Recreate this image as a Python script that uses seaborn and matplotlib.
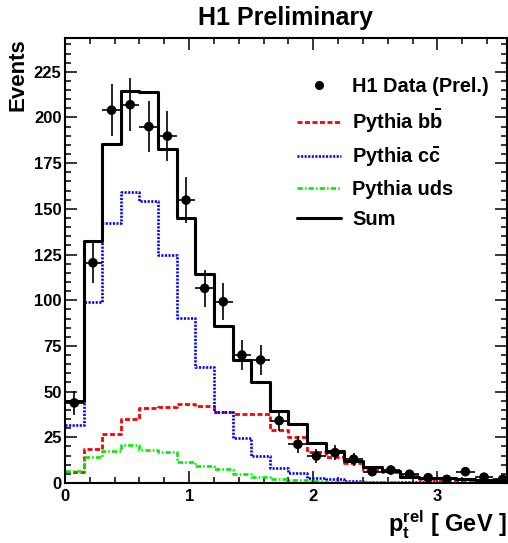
import numpy as np
import pandas as pd
import matplotlib
matplotlib.use("Agg")
import matplotlib.pyplot as plt
import seaborn as sns
from matplotlib.lines import Line2D

# ---------------- data ----------------
bin_edges = [0.0, 0.15, 0.30, 0.45, 0.60, 0.75, 0.90, 1.05, 1.20, 1.35, 1.50, 1.65,
             1.80, 1.95, 2.10, 2.25, 2.40, 2.55, 2.70, 2.85, 3.00, 3.15, 3.30, 3.45, 3.60]
bin_centers = [0.075, 0.225, 0.375, 0.525, 0.675, 0.825, 0.975, 1.125, 1.275, 1.425,
               1.575, 1.725, 1.875, 2.025, 2.175, 2.325, 2.475, 2.625, 2.775, 2.925,
               3.075, 3.225, 3.375, 3.525]
data_events = [43.8, 120.5, 204.0, 207.0, 195.0, 189.8, 154.8, 106.5, 99.2, 70.0,
               67.3, 34.1, 21.2, 14.8, 16.6, 13.0, 6.2, 7.1, 4.8, 2.9,
               2.0, 6.2, 3.2, 2.0]
data_errors = [6.6, 11.0, 14.3, 14.4, 14.0, 13.8, 12.4, 10.3, 10.0, 8.4,
               8.2, 5.8, 4.6, 3.8, 4.1, 3.6, 2.5, 2.7, 2.2, 1.7,
               1.4, 2.5, 1.8, 1.4]
bin_half_width = 0.075
pythia_bb = [6.2, 18.4, 26.6, 34.8, 40.9, 41.5, 43.0, 42.1, 39.0, 37.6,
             37.6, 29.0, 25.0, 17.1, 14.4, 10.8, 7.1, 6.2, 4.4, 2.2,
             1.8, 1.5, 1.2, 1.0]
pythia_cc = [31.7, 99.2, 142.0, 159.0, 154.4, 124.7, 90.1, 63.6, 39.0, 24.5,
             14.8, 8.0, 5.6, 3.0, 2.0, 1.2, 0.8, 0.5, 0.4, 0.3,
             0.2, 0.2, 0.1, 0.1]
pythia_uds = [6.5, 14.4, 17.5, 20.8, 18.0, 16.8, 11.7, 9.3, 7.5, 4.9,
              3.5, 2.4, 1.7, 1.0, 0.8, 0.5, 0.4, 0.3, 0.2, 0.2,
              0.1, 0.1, 0.1, 0.1]
pythia_sum = [45.0, 132.5, 185.4, 214.6, 213.9, 182.7, 145.1, 114.6, 85.9, 67.3,
              55.1, 39.4, 32.1, 21.7, 17.5, 12.2, 8.9, 6.6, 3.5, 3.0,
              2.5, 2.0, 1.6, 1.5]
legend_labels = ["H1 Data (Prel.)", r"Pythia $\mathbf{b\bar{b}}$",
                 r"Pythia $\mathbf{c\bar{c}}$", "Pythia uds", "Sum"]
x_ticks = [0, 1, 2, 3]
y_ticks = [0, 25, 50, 75, 100, 125, 150, 175, 200, 225]

# ---------------- style ----------------
sns.set_theme(style="ticks")
plt.rcParams["font.family"] = ["Liberation Sans", "DejaVu Sans"]
plt.rcParams["mathtext.fontset"] = "custom"
plt.rcParams["mathtext.rm"] = "Liberation Sans"
plt.rcParams["mathtext.it"] = "Liberation Sans:italic"
plt.rcParams["mathtext.bf"] = "Liberation Sans:bold"
for key in ["text.color", "axes.labelcolor", "xtick.color", "ytick.color",
            "axes.edgecolor"]:
    plt.rcParams[key] = "black"

W, H = 508, 543
fig = plt.figure(figsize=(W / 100, H / 100), dpi=100)
ax = fig.add_axes([65 / W, 1 - 483 / H, (507 - 65) / W, (483 - 38) / H])

df = pd.DataFrame({"x": bin_centers, "bb": pythia_bb, "cc": pythia_cc,
                   "uds": pythia_uds, "sum": pythia_sum})

red_style = dict(color="#ff0000", linewidth=2.0, dashes=(1.8, 0.9))
blue_style = dict(color="#0000ff", linewidth=1.9, dashes=(0.8, 0.55))
green_style = dict(color="#00ee00", linewidth=1.9, dashes=(2.0, 0.8, 0.6, 0.8))
black_style = dict(color="black", linewidth=2.2)

sns.histplot(data=df, x="x", weights="bb", bins=bin_edges, element="step",
             fill=False, ax=ax, **red_style)
sns.histplot(data=df, x="x", weights="cc", bins=bin_edges, element="step",
             fill=False, ax=ax, **blue_style)
sns.histplot(data=df, x="x", weights="uds", bins=bin_edges, element="step",
             fill=False, ax=ax, **green_style)
sns.histplot(data=df, x="x", weights="sum", bins=bin_edges, element="step",
             fill=False, ax=ax, **black_style)

ax.errorbar(bin_centers, data_events, yerr=data_errors, xerr=bin_half_width,
            fmt="none", ecolor="black", elinewidth=1.2, capsize=0, zorder=6)
sns.scatterplot(x=bin_centers, y=data_events, color="black", s=48,
                edgecolor="none", zorder=7, ax=ax, legend=False)

ax.set_xlim(0, 3.56)
ax.set_ylim(0, 243.5)
ax.set_xticks(x_ticks)
ax.set_xticklabels([str(t) for t in x_ticks])
ax.set_yticks(y_ticks)
ax.set_yticklabels([str(t) for t in y_ticks])
ax.xaxis.set_minor_locator(matplotlib.ticker.MultipleLocator(0.2))
ax.yaxis.set_minor_locator(matplotlib.ticker.MultipleLocator(5))
ax.tick_params(which="both", direction="in", top=True, right=True,
               width=1.1, color="black", labelcolor="black")
ax.tick_params(which="major", length=8.5)
ax.tick_params(which="minor", length=4.6)
ax.tick_params(axis="y", which="major", pad=2.5, labelsize=12)
ax.tick_params(axis="x", which="major", pad=4, labelsize=12)
for lbl in ax.get_xticklabels() + ax.get_yticklabels():
    lbl.set_fontweight("bold")
for sp in ax.spines.values():
    sp.set_linewidth(1.5)
    sp.set_color("black")
    sp.set_visible(True)

ax.set_title("H1 Preliminary", fontsize=18, fontweight="bold", pad=9.5, color="black")
ax.set_ylabel("Events", fontsize=16, fontweight="bold", loc="top", color="black")
ax.yaxis.set_label_coords(-0.082, 1.0)
ax.set_xlabel(r"$\mathbf{p_t^{rel}}$ [ GeV ]", fontsize=17, fontweight="bold",
              loc="right", color="black")
ax.xaxis.set_label_coords(1.0, -0.058)

handles = [
    Line2D([], [], marker="o", color="black", linestyle="none", markersize=5.5),
    Line2D([], [], **red_style),
    Line2D([], [], **blue_style),
    Line2D([], [], **green_style),
    Line2D([], [], **black_style),
]
leg = ax.legend(handles, legend_labels, loc="upper left", bbox_to_anchor=(0.525, 0.912),
                frameon=False, handlelength=2.2, handletextpad=0.55,
                labelspacing=0.55, borderpad=0, borderaxespad=0,
                prop={"weight": "bold", "size": 14.4})
for t in leg.get_texts():
    t.set_color("black")

fig.savefig("out.png", dpi=100)
